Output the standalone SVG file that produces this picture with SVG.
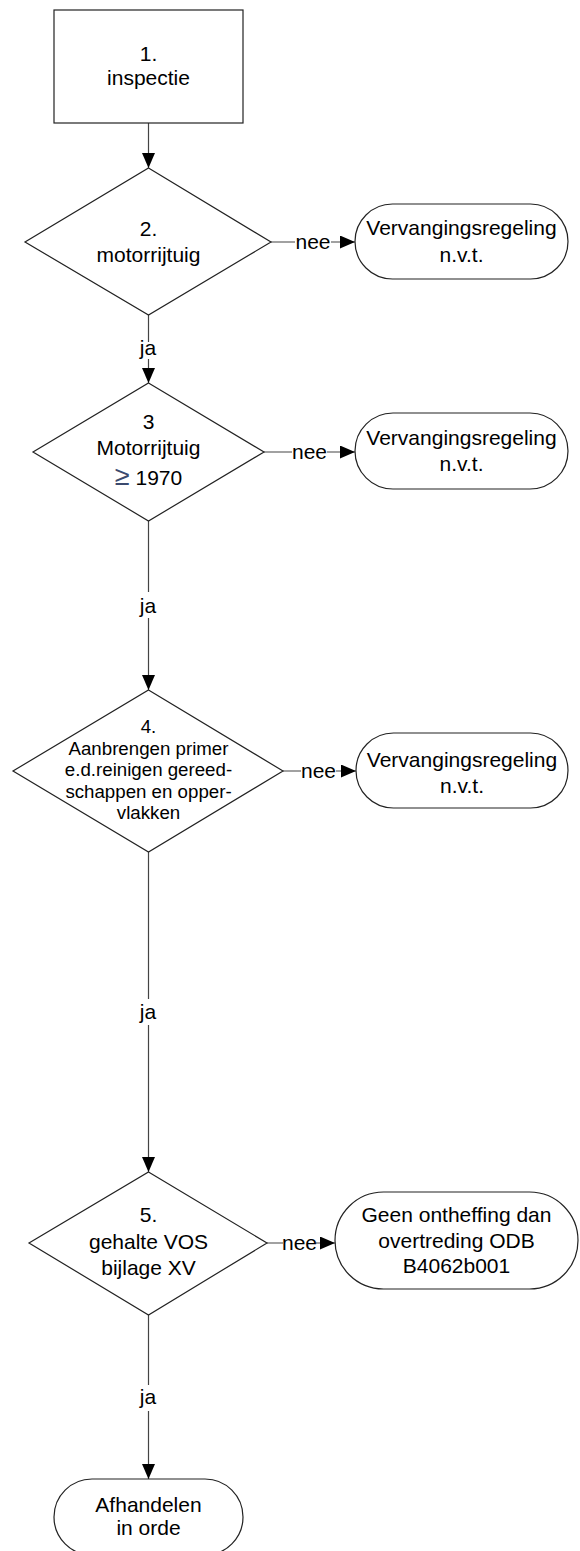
<svg xmlns="http://www.w3.org/2000/svg" width="580" height="1551" viewBox="0 0 580 1551">
<style>
.shape{fill:#ffffff;stroke:#222222;stroke-width:1.2}
.conn{fill:none;stroke:#444444;stroke-width:1.2}
text{font-family:"Liberation Sans",Arial,sans-serif;font-size:21px;fill:#000000;text-anchor:middle}
.small{font-size:18.7px}
.sym{fill:#3b4a6e;font-size:27px}
</style>
<defs>
<marker id="arr" markerUnits="userSpaceOnUse" markerWidth="15" markerHeight="13" refX="15" refY="6.5" orient="auto">
<path d="M0,0 L15,6.5 L0,13 Z" fill="#000000"/>
</marker>
</defs>
<g id="connectors">
<path class="conn" d="M148.5,123 V168" marker-end="url(#arr)"/>
<path class="conn" d="M148.5,315 V342 M148.5,359 V383" marker-end="url(#arr)"/>
<path class="conn" d="M148.5,521 V592 M148.5,618 V690" marker-end="url(#arr)"/>
<path class="conn" d="M148.5,852 V999 M148.5,1025 V1172" marker-end="url(#arr)"/>
<path class="conn" d="M148.5,1315 V1385 M148.5,1411 V1479" marker-end="url(#arr)"/>
<path class="conn" d="M271,242 H295 M331,242 H355" marker-end="url(#arr)"/>
<path class="conn" d="M264,452 H292 M327,452 H355" marker-end="url(#arr)"/>
<path class="conn" d="M283,771 H301 M336,771 H356" marker-end="url(#arr)"/>
<path class="conn" d="M267,1243 H283 M316,1243 H335" marker-end="url(#arr)"/>
<text x="148" y="355">ja</text>
<text x="148" y="613">ja</text>
<text x="148" y="1019">ja</text>
<text x="148" y="1404">ja</text>
<text x="313" y="249">nee</text>
<text x="309.5" y="459">nee</text>
<text x="318.5" y="778">nee</text>
<text x="299.5" y="1250">nee</text>
</g>
<g id="n1">
<rect class="shape" x="54" y="10" width="189" height="113"/>
<text x="148.5" y="61">1.</text>
<text x="148.5" y="85">inspectie</text>
</g>
<g id="n2">
<polygon class="shape" points="148.5,168 271,242 148.5,315 25,242"/>
<text x="148.5" y="236">2.</text>
<text x="148.5" y="262">motorrijtuig</text>
</g>
<g id="n2nee">
<rect class="shape" x="355" y="204" width="213" height="75" rx="37.5" ry="37.5"/>
<text x="461.5" y="235">Vervangingsregeling</text>
<text x="461.5" y="262">n.v.t.</text>
</g>
<g id="n3">
<polygon class="shape" points="148.5,383 264,452 148.5,521 33,452"/>
<text x="148.5" y="429">3</text>
<text x="148.5" y="455">Motorrijtuig</text>
<text x="148.5" y="485"><tspan class="sym">≥</tspan> 1970</text>
</g>
<g id="n3nee">
<rect class="shape" x="355" y="413" width="213" height="76" rx="38" ry="38"/>
<text x="461.5" y="445">Vervangingsregeling</text>
<text x="461.5" y="471">n.v.t.</text>
</g>
<g id="n4">
<polygon class="shape" points="148.5,690 283,771 148.5,852 13,771"/>
<text class="small" x="148.5" y="733">4.</text>
<text class="small" x="148.5" y="754.5">Aanbrengen primer</text>
<text class="small" x="148.5" y="776">e.d.reinigen gereed-</text>
<text class="small" x="148.5" y="797.5">schappen en opper-</text>
<text class="small" x="148.5" y="819">vlakken</text>
</g>
<g id="n4nee">
<rect class="shape" x="356" y="733" width="212" height="75" rx="37.5" ry="37.5"/>
<text x="462" y="767">Vervangingsregeling</text>
<text x="462" y="793">n.v.t.</text>
</g>
<g id="n5">
<polygon class="shape" points="148.5,1172 267,1243 148.5,1315 29,1243"/>
<text x="148.5" y="1222">5.</text>
<text x="148.5" y="1249">gehalte VOS</text>
<text x="148.5" y="1275">bijlage XV</text>
</g>
<g id="n5nee">
<rect class="shape" x="335" y="1192" width="243" height="97" rx="48.5" ry="48.5"/>
<text x="456.5" y="1222">Geen ontheffing dan</text>
<text x="456.5" y="1248">overtreding ODB</text>
<text x="456.5" y="1273">B4062b001</text>
</g>
<g id="n6">
<rect class="shape" x="54" y="1479" width="189" height="76" rx="38" ry="38"/>
<text x="148.5" y="1512">Afhandelen</text>
<text x="148.5" y="1535">in orde</text>
</g>
</svg>
